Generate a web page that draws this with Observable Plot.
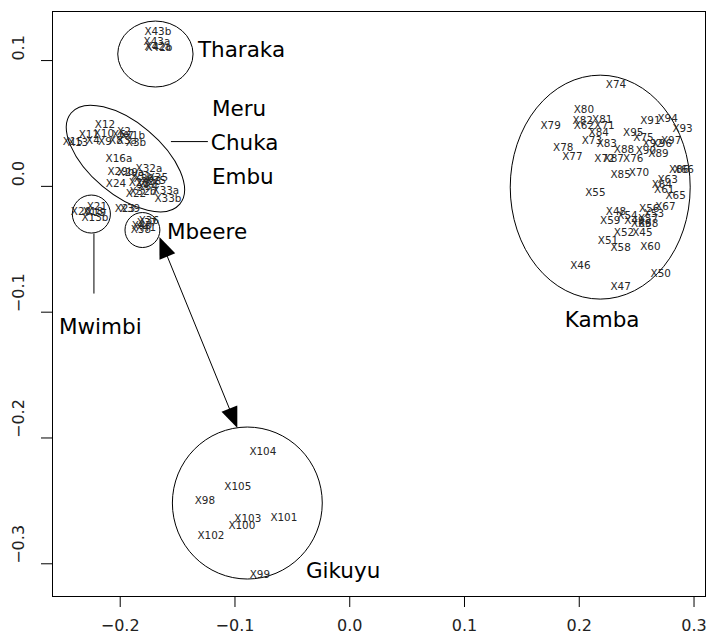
<!DOCTYPE html>
<html>
<head>
<meta charset="utf-8">
<script src="https://cdn.jsdelivr.net/npm/d3@7"></script>
<script src="https://cdn.jsdelivr.net/npm/@observablehq/plot@0.6"></script>
<style>
  html, body { margin: 0; padding: 0; background: #fff; }
  #chart svg { display: block; }
</style>
</head>
<body>
<div id="chart"></div>
<script>
// ---- point labels (sample ids) and their coordinates ----
const pointLabel = [
  // Tharaka
  "X43b","X43a","X42a","X42b",
  // Meru / Chuka / Embu
  "X12","X2","X11","X10","X6","X7","X1b","X15","X13","X4","X9","X8","X3a","X3b",
  "X16a","X29b","X32a","X29a","X31","X30","X35","X25","X28","X27","X26","X34","X24",
  "X22","X32b","X33a","X33b","X23","X39",
  // Mwimbi
  "X21","X20","X18","X19","X13b",
  // Mbeere
  "X36","X37","X40","X38","X41",
  // Kamba
  "X74","X80","X82","X81","X62","X71","X79","X91","X94","X93","X84","X73","X83","X95",
  "X75","X97","X92","X96","X88","X90","X89","X78","X77","X72","X87","X76","X70","X85",
  "X66","X86","X63","X64","X61","X65","X55","X67","X56","X53","X48","X59","X54","X49",
  "X57","X68","X69","X52","X45","X51","X58","X60","X46","X50","X47",
  // Gikuyu
  "X104","X105","X98","X103","X100","X101","X102","X99"
];
const pointX = [
  -0.1672,-0.1680,-0.1672,-0.1663,
  -0.2133,-0.1968,-0.2273,-0.2142,-0.2011,-0.1942,-0.1872,-0.2412,-0.2368,-0.2238,-0.2133,-0.2037,-0.1942,-0.1863,
  -0.2011,-0.1994,-0.1750,-0.1907,-0.1820,-0.1793,-0.1672,-0.1689,-0.1837,-0.1776,-0.1733,-0.1759,-0.2037,
  -0.1863,-0.1802,-0.1602,-0.1584,-0.1959,-0.1915,
  -0.2203,-0.2342,-0.2238,-0.2212,-0.2220,
  -0.1750,-0.1767,-0.1811,-0.1820,-0.1776,
  0.232,0.204,0.203,0.220,0.204,0.222,0.175,0.262,0.277,0.290,0.217,0.211,0.224,0.247,
  0.256,0.280,0.264,0.272,0.239,0.258,0.269,0.186,0.194,0.222,0.230,0.247,0.252,0.236,
  0.291,0.287,0.277,0.272,0.274,0.284,0.214,0.275,0.261,0.265,0.232,0.227,0.242,0.248,
  0.260,0.260,0.254,0.239,0.255,0.225,0.236,0.262,0.201,0.271,0.236,
  -0.0757,-0.0975,-0.1262,-0.0888,-0.0940,-0.0574,-0.1210,-0.0783
];
const pointY = [
  0.1231,0.1151,0.1111,0.1103,
  0.0491,0.0436,0.0412,0.0420,0.0412,0.0404,0.0404,0.0356,0.0348,0.0364,0.0356,0.0364,0.0364,0.0348,
  0.0221,0.0118,0.0141,0.0110,0.0078,0.0062,0.0070,0.0046,0.0030,0.0022,0.0038,-0.0002,0.0022,
  -0.0057,-0.0041,-0.0033,-0.0097,-0.0176,-0.0176,
  -0.0161,-0.0200,-0.0200,-0.0208,-0.0248,
  -0.0272,-0.0288,-0.0312,-0.0343,-0.0328,
  0.081,0.061,0.052,0.053,0.048,0.048,0.048,0.052,0.054,0.046,0.043,0.036,0.034,0.043,
  0.039,0.036,0.034,0.034,0.029,0.028,0.026,0.031,0.024,0.022,0.022,0.022,0.011,0.009,
  0.013,0.013,0.005,0.001,-0.003,-0.007,-0.005,-0.016,-0.018,-0.022,-0.020,-0.027,-0.023,-0.027,
  -0.026,-0.030,-0.030,-0.037,-0.037,-0.043,-0.049,-0.048,-0.063,-0.069,-0.080,
  -0.2108,-0.2386,-0.2498,-0.2641,-0.2696,-0.2633,-0.2776,-0.3086
];

// ---- group labels ----
const groupLabel = ["Tharaka","Meru","Chuka","Embu","Mbeere","Kamba","Mwimbi","Gikuyu"];
const groupX     = [-0.1323, -0.1201, -0.1210, -0.1201, -0.1593, 0.1874, -0.2534, -0.0382];
const groupY     = [0.1087, 0.0618, 0.0340, 0.0070, -0.0367, -0.1067, -0.1122, -0.3062];

// ---- circles / ellipses round the groups (centre, semi-axes, tilt in degrees) ----
const ringName  = ["Tharaka","Meru","Mwimbi","Mbeere","Kamba","Gikuyu"];
const ringCX    = [-0.1689, -0.1950, -0.2247, -0.1802, 0.2187, -0.0888];
const ringCY    = [0.1048, 0.0217, -0.0224, -0.0351, -0.0010, -0.2521];
const ringRX    = [0.0328, 0.0618, 0.0166, 0.0152, 0.0784, 0.0653];
const ringRY    = [0.0262, 0.0286, 0.0151, 0.0139, 0.0890, 0.0604];
const ringTilt  = [0, 40, 0, 0, 0, 0];

// ---- connector lines ----
const connX1 = [-0.1558, -0.2229];
const connY1 = [0.0356, -0.0375];
const connX2 = [-0.1236, -0.2229];
const connY2 = [0.0356, -0.0852];

// ---- double-headed arrow (Mbeere <-> Gikuyu) ----
const arrowX1 = [-0.1654];
const arrowY1 = [-0.0407];
const arrowX2 = [-0.0975];
const arrowY2 = [-0.1925];

// ---- axes ----
const xTickValues = [-0.2, -0.1, 0.0, 0.1, 0.2, 0.3];
const xTickLabels = ["\u22120.2", "\u22120.1", "0.0", "0.1", "0.2", "0.3"];
const yTickValues = [0.1, 0.0, -0.1, -0.2, -0.3];
const yTickLabels = ["0.1", "0.0", "\u22120.1", "\u22120.2", "\u22120.3"];

const points = pointLabel.map((t, i) => ({t, x: pointX[i], y: pointY[i]}));
const groups = groupLabel.map((t, i) => ({t, x: groupX[i], y: groupY[i]}));
const conns = connX1.map((_, i) => ({x1: connX1[i], y1: connY1[i], x2: connX2[i], y2: connY2[i]}));

function ringsMark(index, scales) {
  const {x, y} = scales;
  const g = d3.create("svg:g").attr("fill", "none").attr("stroke", "black").attr("stroke-width", 1);
  ringName.forEach((_, i) => {
    const cx = x(ringCX[i]), cy = y(ringCY[i]);
    const rx = Math.abs(x(ringCX[i] + ringRX[i]) - cx);
    const ry = Math.abs(y(ringCY[i] + ringRY[i]) - cy);
    g.append("ellipse").attr("cx", cx).attr("cy", cy).attr("rx", rx).attr("ry", ry)
      .attr("transform", `rotate(${ringTilt[i]},${cx},${cy})`);
  });
  return g.node();
}

function arrowMark(index, scales) {
  const {x, y} = scales;
  const g = d3.create("svg:g");
  const headLen = 21, headHalf = 8.5;
  arrowX1.forEach((_, i) => {
    const ax = x(arrowX1[i]), ay = y(arrowY1[i]);
    const bx = x(arrowX2[i]), by = y(arrowY2[i]);
    const L = Math.hypot(bx - ax, by - ay);
    const ux = (bx - ax) / L, uy = (by - ay) / L;
    const px = -uy, py = ux;
    g.append("line")
      .attr("x1", ax + ux * headLen * 0.8).attr("y1", ay + uy * headLen * 0.8)
      .attr("x2", bx - ux * headLen * 0.8).attr("y2", by - uy * headLen * 0.8)
      .attr("stroke", "black").attr("stroke-width", 1);
    const head = (tx, ty, dx, dy) => {
      const bxp = tx + dx * headLen, byp = ty + dy * headLen;
      return `M${tx},${ty}L${bxp + px * headHalf},${byp + py * headHalf}L${bxp - px * headHalf},${byp - py * headHalf}Z`;
    };
    g.append("path").attr("d", head(ax, ay, ux, uy)).attr("fill", "black");
    g.append("path").attr("d", head(bx, by, -ux, -uy)).attr("fill", "black");
  });
  return g.node();
}

const chart = Plot.plot({
  width: 709,
  height: 638,
  marginLeft: 52,
  marginRight: 4,
  marginTop: 11,
  marginBottom: 42,
  style: {fontFamily: "DejaVu Sans", background: "#fff", color: "black"},
  x: {domain: [-0.259, 0.310], ticks: xTickValues, tickSize: 11, tickFormat: () => "", label: null},
  y: {domain: [-0.326, 0.139], ticks: yTickValues, tickSize: 11, tickFormat: () => "", label: null},
  marks: [
    Plot.frame({stroke: "black", strokeWidth: 1}),
    ringsMark,
    Plot.link(conns, {x1: "x1", y1: "y1", x2: "x2", y2: "y2", stroke: "black", strokeWidth: 1}),
    arrowMark,
    Plot.text(points, {x: "x", y: "y", text: "t", fontSize: 10.4, fill: "#262626"}),
    Plot.text(groups, {x: "x", y: "y", text: "t", fontSize: 21.5, textAnchor: "start", fill: "black"}),
    Plot.text(xTickValues, {x: d => d, text: (d, i) => xTickLabels[i], frameAnchor: "bottom", dy: 34, fontSize: 16, fill: "#222"}),
    Plot.text(yTickValues, {y: d => d, text: (d, i) => yTickLabels[i], frameAnchor: "left", dx: -34, rotate: -90, fontSize: 16, fill: "#222"})
  ]
});
document.getElementById("chart").appendChild(chart);
</script>
</body>
</html>
